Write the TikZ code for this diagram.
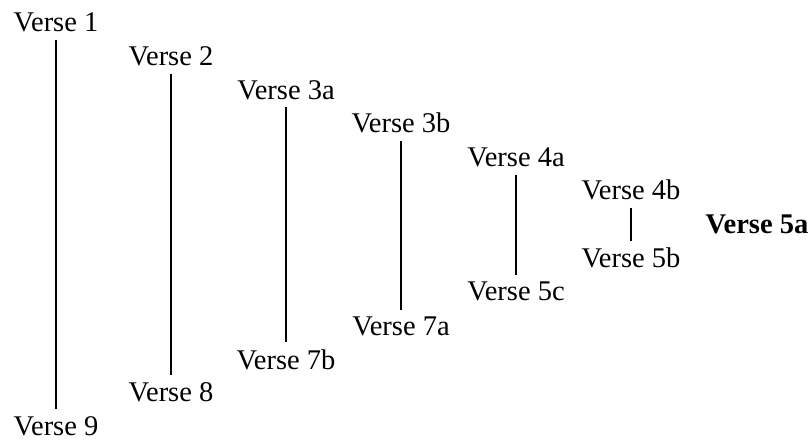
\documentclass[tikz,border=0pt]{standalone}
\usepackage{fontspec}
\setmainfont{Liberation Serif}
\begin{document}
\begin{tikzpicture}[x=1pt,y=-1pt,
  verse/.style={anchor=base,inner sep=7pt,font=\fontsize{28.5}{34}\selectfont},
  link/.style={line width=1.4pt}]
\useasboundingbox (0,0) rectangle (809,441);
% columns 115pt apart, rows 33.6pt apart (baselines)
\node[verse] (v1)  at (56,32.0)  {Verse 1};
\node[verse] (v2)  at (171,66.0) {Verse 2};
\node[verse] (v3a) at (286,99.2) {Verse 3a};
\node[verse] (v3b) at (401,133.0) {Verse 3b};
\node[verse] (v4a) at (516,167.0) {Verse 4a};
\node[verse] (v4b) at (631,200.0) {Verse 4b};
\node[verse,font=\fontsize{28.5}{34}\selectfont\bfseries] (v5a) at (757,233.6) {Verse 5a};
\node[verse] (v5b) at (631,267.5) {Verse 5b};
\node[verse] (v5c) at (516,300.8) {Verse 5c};
\node[verse] (v7a) at (401,335.5) {Verse 7a};
\node[verse] (v7b) at (286,369.0) {Verse 7b};
\node[verse] (v8)  at (171,401.6) {Verse 8};
\node[verse] (v9)  at (56,435.2)  {Verse 9};
% vertical links pairing each opening verse with its closing verse
\draw[link] (v1.south)  -- (v9.north);
\draw[link] (v2.south)  -- (v8.north);
\draw[link] (v3a.south) -- (v7b.north);
\draw[link] (v3b.south) -- (v7a.north);
\draw[link] (v4a.south) -- (v5c.north);
\draw[link] (v4b.south) -- (v5b.north);
\end{tikzpicture}
\end{document}
